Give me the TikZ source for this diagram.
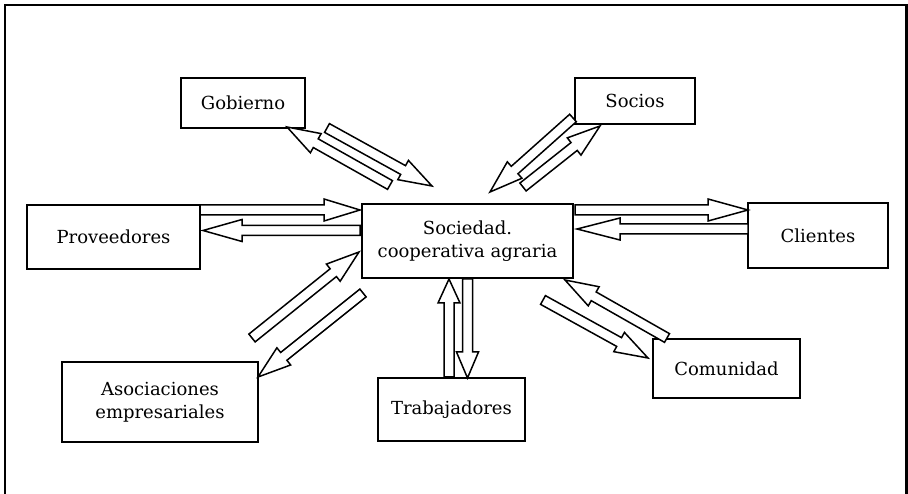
\documentclass[tikz,border=0pt]{standalone}
\usepackage{fontspec}
\setmainfont{DejaVu Serif}
\usepackage{tikz}
\usetikzlibrary{calc, positioning}

% cajas y flechas huecas
\tikzset{
  caja/.style={draw, line width=1.6pt, fill=white, align=center, inner sep=2pt,
    font=\fontsize{18}{23}\selectfont},
  flechahueca/.style={draw, line width=1.5pt, fill=white, line join=miter}
}
% #1 largo de la punta, #2 origen, #3 destino
\newcommand{\flecha}[3][33]{%
  \coordinate (fl-h) at ($(#3)!#1pt!(#2)$);
  \draw[flechahueca] ($(#2)!5pt!-90:(#3)$) -- ($(fl-h)!5pt!-90:(#3)$)
    -- ($(fl-h)!11pt!-90:(#3)$) -- (#3) -- ($(fl-h)!11pt!90:(#3)$)
    -- ($(fl-h)!5pt!90:(#3)$) -- ($(#2)!5pt!90:(#3)$) -- cycle;}

\begin{document}
\begin{tikzpicture}[x=1pt, y=-1pt]
    \useasboundingbox (0,0) rectangle (908,494);
    % marco
    \draw[line width=2.6pt] (5,494) -- (5,5) -- (906.5,5) -- (906.5,494);

    % cajas
    \node[caja, minimum width=211pt, minimum height=74pt] (coop) at (467.5,241) {Sociedad.\\cooperativa agraria};
    \node[caja, minimum width=124pt, minimum height=50pt] (gob) at (243,103) {Gobierno};
    \node[caja, minimum width=120pt, minimum height=46pt] (soc) at (635,101) {Socios};
    \node[caja, minimum width=173pt, minimum height=64pt] (prov) at (113.5,237) {Proveedores};
    \node[caja, minimum width=140pt, minimum height=65pt] (cli) at (818,235.5) {Clientes};
    \node[caja, minimum width=196pt, minimum height=80pt] (asoc) at (160,402) {Asociaciones\\empresariales};
    \node[caja, minimum width=147pt, minimum height=63pt] (trab) at (451.5,409.5) {Trabajadores};
    \node[caja, minimum width=147pt, minimum height=59pt] (com) at (726.5,368.5) {Comunidad};

    % extremos de las flechas
    \coordinate (provA) at (200,210);   \coordinate (provB) at (360,210);
    \coordinate (provC) at (360,230.5); \coordinate (provD) at (203,230.5);
    \coordinate (cliA) at (575,210);    \coordinate (cliB) at (748,210);
    \coordinate (cliC) at (748,229);    \coordinate (cliD) at (577,229);
    \coordinate (trabA) at (449,377);   \coordinate (trabB) at (449,279);
    \coordinate (trabC) at (467.5,279); \coordinate (trabD) at (467.5,378);
    \coordinate (gobA) at (390,185);    \coordinate (gobB) at (287,127);
    \coordinate (gobC) at (327,128);    \coordinate (gobD) at (432,186);
    \coordinate (socA) at (573,118);    \coordinate (socB) at (490,192);
    \coordinate (socC) at (523,187);    \coordinate (socD) at (600,126);
    \coordinate (asocA) at (252,338);   \coordinate (asocB) at (359,252);
    \coordinate (asocC) at (363,293);   \coordinate (asocD) at (258,377);
    \coordinate (comA) at (667,338);    \coordinate (comB) at (565,280);
    \coordinate (comC) at (543,300);    \coordinate (comD) at (648,358);

    % flechas
    \flecha[36]{provA}{provB}
    \flecha[39]{provC}{provD}
    \flecha[40]{cliA}{cliB}
    \flecha[43]{cliC}{cliD}
    \flecha[24]{trabA}{trabB}
    \flecha[26]{trabC}{trabD}
    \flecha{gobA}{gobB}
    \flecha{gobC}{gobD}
    \flecha{socA}{socB}
    \flecha{socC}{socD}
    \flecha{asocA}{asocB}
    \flecha{asocC}{asocD}
    \flecha{comA}{comB}
    \flecha{comC}{comD}
\end{tikzpicture}
\end{document}
